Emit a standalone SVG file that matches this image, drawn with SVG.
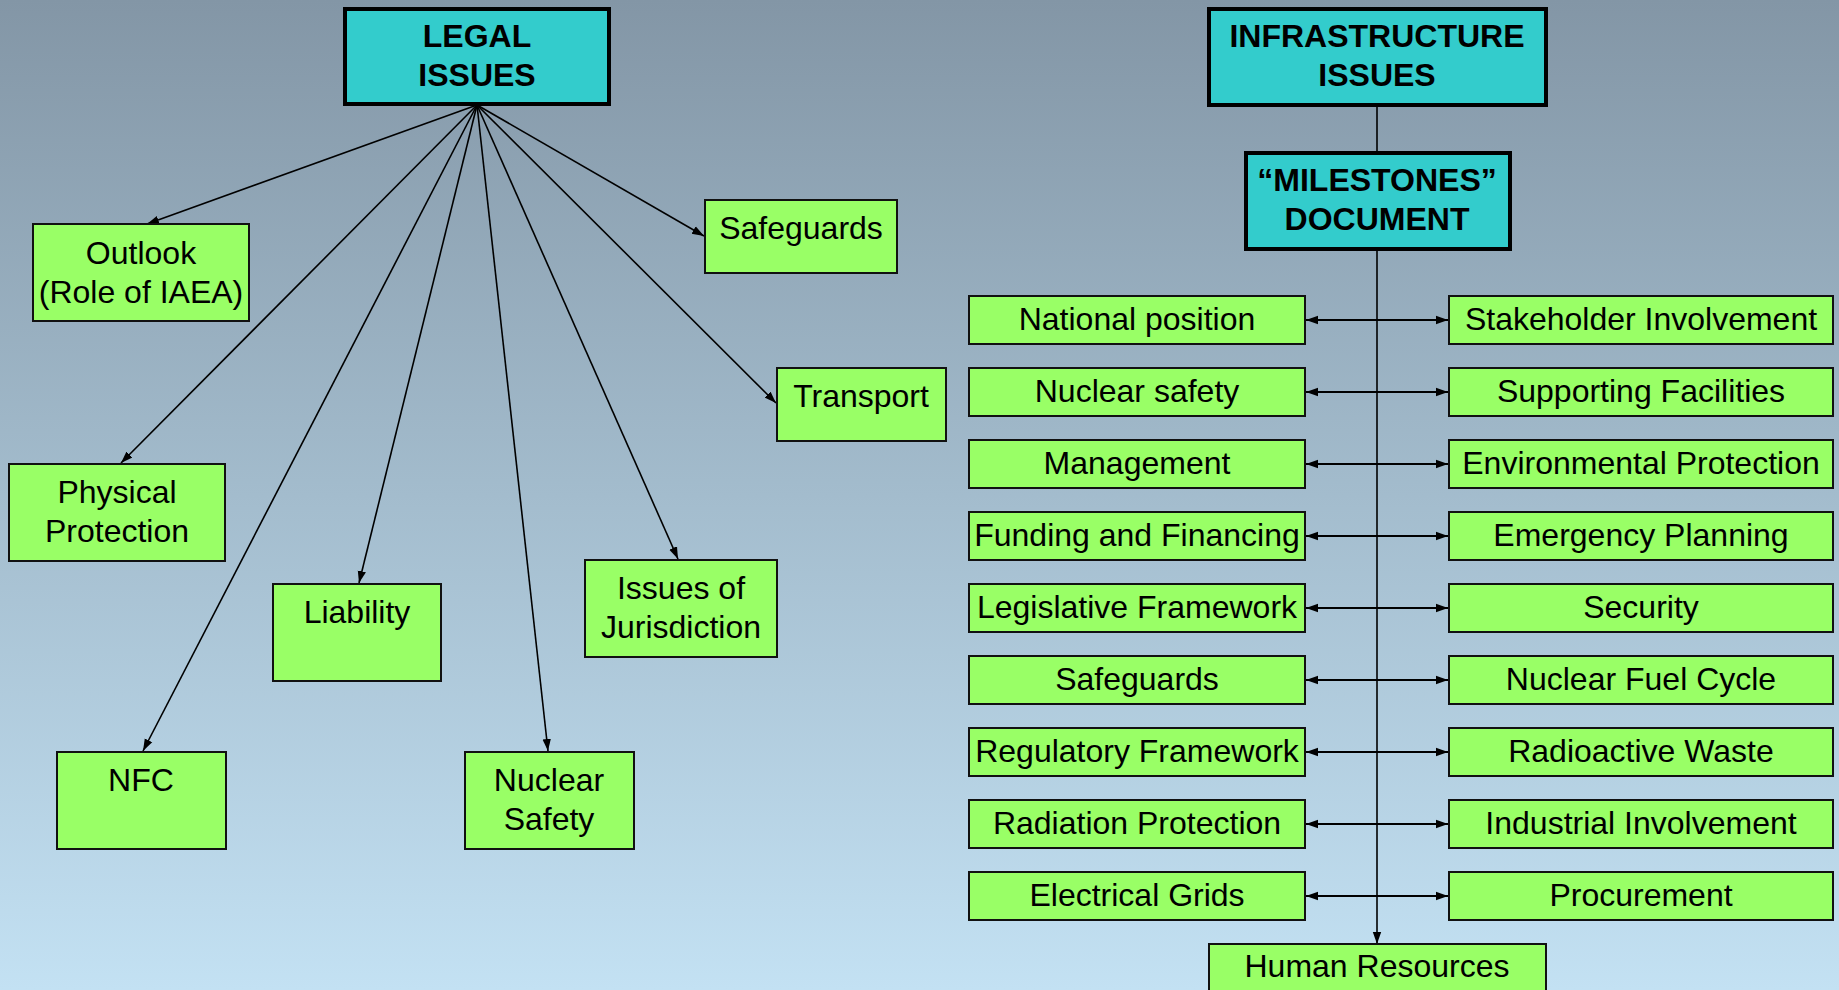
<svg xmlns="http://www.w3.org/2000/svg" width="1839" height="990" viewBox="0 0 1839 990">
<defs>
<linearGradient id="bg" x1="0" y1="0" x2="0" y2="1">
<stop offset="0" stop-color="#8396a6"/>
<stop offset="0.5" stop-color="#a3bccd"/>
<stop offset="1" stop-color="#c3e1f3"/>
</linearGradient>
<marker id="ah" markerUnits="userSpaceOnUse" markerWidth="13" markerHeight="10" refX="12" refY="5" orient="auto-start-reverse" viewBox="0 0 13 10">
<path d="M0,0.8 L12,5 L0,9.2 z" fill="#000"/>
</marker>
<style>
.head{fill:#33cccc;stroke:#000;stroke-width:4}
.box{fill:#99ff66;stroke:#111;stroke-width:2}
.t{font-family:"Liberation Sans",Arial,sans-serif;font-size:32px;fill:#000;text-anchor:middle}
.tb{font-family:"Liberation Sans",Arial,sans-serif;font-size:32px;font-weight:bold;fill:#000;text-anchor:middle}
.c{stroke:#000;stroke-width:1.6;fill:none}
.ca{stroke:#000;stroke-width:1.6;fill:none;marker-end:url(#ah)}
.cd{stroke:#000;stroke-width:1.8;fill:none;marker-start:url(#ah);marker-end:url(#ah)}
</style>
</defs>
<rect x="0" y="0" width="1839" height="990" fill="url(#bg)"/>

<g id="connectors">
<line class="ca" x1="477" y1="105" x2="147" y2="224"/>
<line class="ca" x1="477" y1="105" x2="704" y2="236"/>
<line class="ca" x1="477" y1="105" x2="776" y2="403"/>
<line class="ca" x1="477" y1="105" x2="121" y2="463"/>
<line class="ca" x1="477" y1="105" x2="359" y2="583"/>
<line class="ca" x1="477" y1="105" x2="678" y2="559"/>
<line class="ca" x1="477" y1="105" x2="143" y2="751"/>
<line class="ca" x1="477" y1="105" x2="548" y2="751"/>
<line class="c" x1="1377" y1="106" x2="1377" y2="152"/>
<line class="ca" x1="1377" y1="250" x2="1377" y2="944"/>
<line class="cd" x1="1306" y1="320" x2="1448" y2="320"/>
<line class="cd" x1="1306" y1="392" x2="1448" y2="392"/>
<line class="cd" x1="1306" y1="464" x2="1448" y2="464"/>
<line class="cd" x1="1306" y1="536" x2="1448" y2="536"/>
<line class="cd" x1="1306" y1="608" x2="1448" y2="608"/>
<line class="cd" x1="1306" y1="680" x2="1448" y2="680"/>
<line class="cd" x1="1306" y1="752" x2="1448" y2="752"/>
<line class="cd" x1="1306" y1="824" x2="1448" y2="824"/>
<line class="cd" x1="1306" y1="896" x2="1448" y2="896"/>
</g>

<g id="legal"><rect class="head" x="345" y="9" width="264" height="95"/><text class="tb" x="477" y="47">LEGAL</text><text class="tb" x="477" y="86">ISSUES</text></g>
<g id="outlook"><rect class="box" x="33" y="224" width="216" height="97"/><text class="t" x="141" y="264">Outlook</text><text class="t" x="141" y="303">(Role of IAEA)</text></g>
<g id="safeguards-legal"><rect class="box" x="705" y="200" width="192" height="73"/><text class="t" x="801" y="239">Safeguards</text></g>
<g id="transport"><rect class="box" x="777" y="368" width="169" height="73"/><text class="t" x="861" y="407">Transport</text></g>
<g id="physical"><rect class="box" x="9" y="464" width="216" height="97"/><text class="t" x="117" y="503">Physical</text><text class="t" x="117" y="542">Protection</text></g>
<g id="liability"><rect class="box" x="273" y="584" width="168" height="97"/><text class="t" x="357" y="623">Liability</text></g>
<g id="jurisdiction"><rect class="box" x="585" y="560" width="192" height="97"/><text class="t" x="681" y="599">Issues of</text><text class="t" x="681" y="638">Jurisdiction</text></g>
<g id="nfc"><rect class="box" x="57" y="752" width="169" height="97"/><text class="t" x="141" y="791">NFC</text></g>
<g id="nuclear-safety-legal"><rect class="box" x="465" y="752" width="169" height="97"/><text class="t" x="549" y="791">Nuclear</text><text class="t" x="549" y="830">Safety</text></g>

<g id="infrastructure"><rect class="head" x="1209" y="9" width="337" height="96"/><text class="tb" x="1377" y="47">INFRASTRUCTURE</text><text class="tb" x="1377" y="86">ISSUES</text></g>
<g id="milestones"><rect class="head" x="1246" y="153" width="264" height="96"/><text class="tb" x="1377" y="191">“MILESTONES”</text><text class="tb" x="1377" y="230">DOCUMENT</text></g>

<g id="national"><rect class="box" x="969" y="296" width="336" height="48"/><text class="t" x="1137" y="330">National position</text></g>
<g id="nuclear-safety"><rect class="box" x="969" y="368" width="336" height="48"/><text class="t" x="1137" y="402">Nuclear safety</text></g>
<g id="management"><rect class="box" x="969" y="440" width="336" height="48"/><text class="t" x="1137" y="474">Management</text></g>
<g id="funding"><rect class="box" x="969" y="512" width="336" height="48"/><text class="t" x="1137" y="546">Funding and Financing</text></g>
<g id="legislative"><rect class="box" x="969" y="584" width="336" height="48"/><text class="t" x="1137" y="618">Legislative Framework</text></g>
<g id="safeguards"><rect class="box" x="969" y="656" width="336" height="48"/><text class="t" x="1137" y="690">Safeguards</text></g>
<g id="regulatory"><rect class="box" x="969" y="728" width="336" height="48"/><text class="t" x="1137" y="762">Regulatory Framework</text></g>
<g id="radiation"><rect class="box" x="969" y="800" width="336" height="48"/><text class="t" x="1137" y="834">Radiation Protection</text></g>
<g id="grids"><rect class="box" x="969" y="872" width="336" height="48"/><text class="t" x="1137" y="906">Electrical Grids</text></g>

<g id="stakeholder"><rect class="box" x="1449" y="296" width="384" height="48"/><text class="t" x="1641" y="330">Stakeholder Involvement</text></g>
<g id="supporting"><rect class="box" x="1449" y="368" width="384" height="48"/><text class="t" x="1641" y="402">Supporting Facilities</text></g>
<g id="environmental"><rect class="box" x="1449" y="440" width="384" height="48"/><text class="t" x="1641" y="474">Environmental Protection</text></g>
<g id="emergency"><rect class="box" x="1449" y="512" width="384" height="48"/><text class="t" x="1641" y="546">Emergency Planning</text></g>
<g id="security"><rect class="box" x="1449" y="584" width="384" height="48"/><text class="t" x="1641" y="618">Security</text></g>
<g id="fuel-cycle"><rect class="box" x="1449" y="656" width="384" height="48"/><text class="t" x="1641" y="690">Nuclear Fuel Cycle</text></g>
<g id="waste"><rect class="box" x="1449" y="728" width="384" height="48"/><text class="t" x="1641" y="762">Radioactive Waste</text></g>
<g id="industrial"><rect class="box" x="1449" y="800" width="384" height="48"/><text class="t" x="1641" y="834">Industrial Involvement</text></g>
<g id="procurement"><rect class="box" x="1449" y="872" width="384" height="48"/><text class="t" x="1641" y="906">Procurement</text></g>

<g id="human-resources"><rect class="box" x="1209" y="944" width="337" height="60"/><text class="t" x="1377" y="977">Human Resources</text></g>
</svg>
